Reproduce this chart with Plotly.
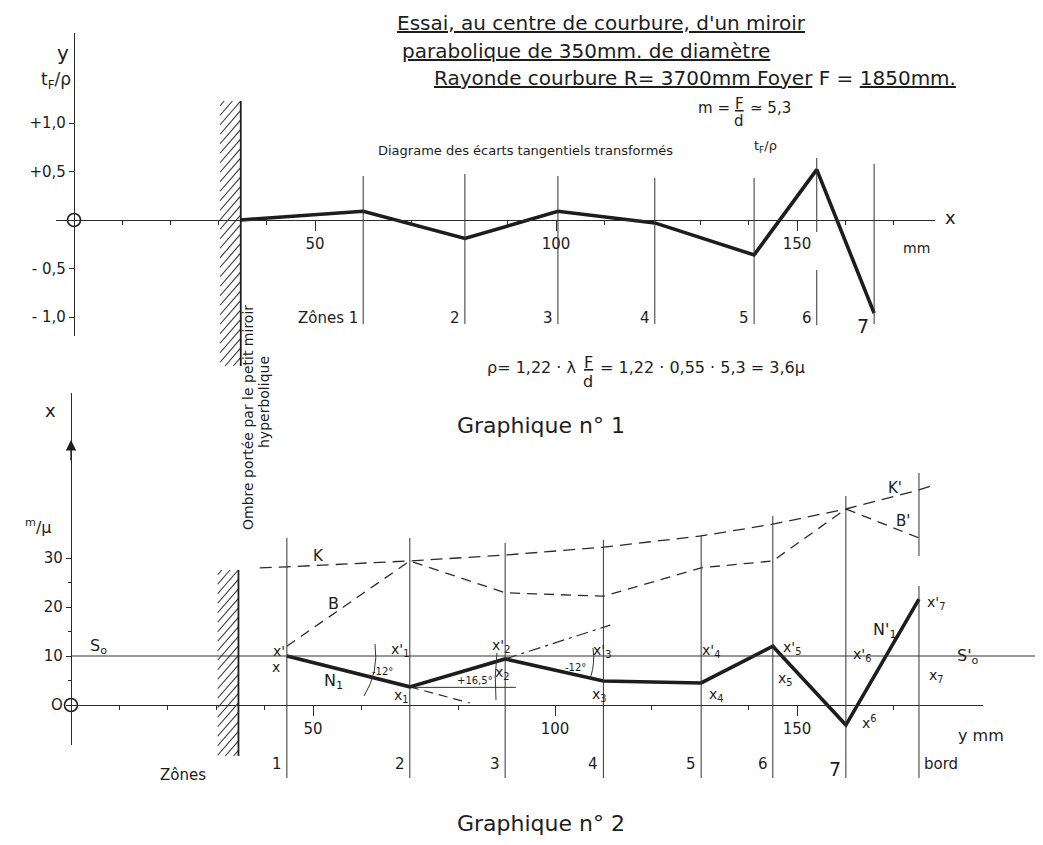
import plotly.graph_objects as go

W, H = 1043, 845

# ---------------- data ----------------
# Graphique no 1 : tangential deviations transformed, tF/rho, versus radius (mm)
g1_radius_mm = [34.6, 60.0, 81.1, 100.4, 120.5, 141.1, 154.1, 166.0]
g1_tf_rho = [0.0, 0.09, -0.19, 0.09, -0.03, -0.36, 0.52, -0.96]
g1_zone_mm = [60.0, 81.1, 100.4, 120.5, 141.1, 154.1, 166.0]
g1_zone_labels = ["Zônes 1", "2", "3", "4", "5", "6", "7"]
g1_yticks = [1.0, 0.5, -0.5, -1.0]
g1_yticklabels = ["+1,0", "+0,5", "- 0,5", "- 1,0"]

x_ticks = [50, 100, 150]
x_ticklabels = ["50", "100", "150"]

# Graphique no 2 : profile (m-micron) versus radius y (mm)
g2_zone_mm = [44.6, 70.0, 89.7, 110.0, 130.2, 145.0, 160.1, 175.2]
g2_zone_labels = ["1", "2", "3", "4", "5", "6", "7", "bord"]
g2_N = [10.0, 3.7, 9.4, 4.9, 4.5, 12.0, -4.1, 21.6]
g2_K_mm = [39.0, 44.6, 70.0, 89.7, 110.0, 130.2, 145.0, 160.1, 175.2, 177.7]
g2_K = [28.0, 28.2, 29.4, 30.6, 32.2, 34.5, 36.9, 40.0, 43.9, 44.7]
g2_B = [12.0, 29.4, 22.9, 22.2, 28.0, 29.4, 40.0, 34.1]
g2_S0 = 10.0
g2_yticks = [0, 10, 20, 30]
g2_yticklabels = ["O", "10", "20", "30"]
tan1_mm, tan1_val = [70.0, 82.4], [3.7, 0.4]
tan2_mm, tan2_val = [89.7, 111.4], [9.4, 16.3]
ref_mm, ref_val = [70.0, 91.9], [3.6, 3.6]

shadow_mm = (30.3, 34.6)

# ---------------- helpers (page layout) ----------------
INK = "#1d1d1d"
FONT = "DejaVu Sans"


def fx(px):
    return px / W


def fy(py):
    return 1 - py / H


# pixel calibration of the two drawings (where 0 sits, pixels per unit)
X1_0, X1_S, Y1_0, Y1_S = 66, 4.82, 212, 97.0
X2_0, X2_S, Y2_0, Y2_S = 63, 4.84, 697, 4.9

annotations = []
shapes = []


def txt(text, px, py, size=15, xanchor="center", yanchor="middle", angle=0, under=False):
    f = dict(family=FONT, size=size, color=INK)
    if under:
        f["lineposition"] = "under"
    annotations.append(dict(text=text, x=fx(px), y=fy(py), xref="paper", yref="paper",
                            showarrow=False, xanchor=xanchor, yanchor=yanchor,
                            textangle=angle, font=f))


def vline(xref, xval, top_px, bot_px, width=1.0, color="#333"):
    shapes.append(dict(type="line", xref=xref, yref="paper", x0=xval, x1=xval,
                       y0=fy(bot_px), y1=fy(top_px), line=dict(color=color, width=width)))


def hatch(xref, x0mm, x1mm, px0, scale, top, bot, step=9.5):
    xl = px0 + x0mm * scale
    xr = px0 + x1mm * scale
    w = xr - xl
    rise = 1.15 * w
    c = top + step * 0.5
    while c < bot + rise:
        ax, ay = xl, c
        bx, by = xr, c - rise
        if ay > bot:
            ax = xl + (ay - bot) / 1.15
            ay = bot
        if by < top:
            bx = xr - (top - by) / 1.15
            by = top
        if ax < bx:
            shapes.append(dict(type="line", xref=xref, yref="paper",
                               x0=(ax - px0) / scale, x1=(bx - px0) / scale,
                               y0=fy(ay), y1=fy(by), line=dict(color="#333", width=1.1)))
        c += step
    vline(xref, x1mm, top, bot, width=1.8, color=INK)


fig = go.Figure()

# ---------------- Graphique 1 ----------------
fig.add_trace(go.Scatter(x=g1_radius_mm, y=g1_tf_rho, mode="lines",
                         line=dict(color=INK, width=3.6), xaxis="x", yaxis="y",
                         hoverinfo="skip"))
fig.add_trace(go.Scatter(x=[0], y=[0], mode="markers", cliponaxis=False,
                         marker=dict(symbol="circle", size=13, color="white",
                                     line=dict(color=INK, width=1.6)),
                         xaxis="x", yaxis="y", hoverinfo="skip"))

g1_tops = [168, 166, 168, 170, 170, 150, 156]
for i, (zx, top) in enumerate(zip(g1_zone_mm, g1_tops)):
    if i == 5:
        vline("x", zx, top, 224)
        vline("x", zx, 262, 317)
    else:
        vline("x", zx, top, 316)
for i, (zx, lab) in enumerate(zip(g1_zone_mm, g1_zone_labels)):
    annotations.append(dict(text=lab, x=zx, xref="x", y=fy(310 if i < 6 else 318), yref="paper",
                            xanchor="right", yanchor="middle", xshift=-3, showarrow=False,
                            font=dict(family=FONT, size=15 if i < 6 else 19, color=INK)))
hatch("x", shadow_mm[0], shadow_mm[1], X1_0, X1_S, 93, 358)

# ---------------- Graphique 2 ----------------
fig.add_trace(go.Scatter(x=g2_K_mm, y=g2_K, mode="lines",
                         line=dict(color="#2a2a2a", width=1.3, dash="12px,7px"),
                         xaxis="x2", yaxis="y2", hoverinfo="skip"))
fig.add_trace(go.Scatter(x=g2_zone_mm, y=g2_B, mode="lines",
                         line=dict(color="#2a2a2a", width=1.3, dash="10px,7px"),
                         xaxis="x2", yaxis="y2", hoverinfo="skip"))
fig.add_trace(go.Scatter(x=tan1_mm, y=tan1_val, mode="lines",
                         line=dict(color="#2a2a2a", width=1.2, dash="9px,6px"),
                         xaxis="x2", yaxis="y2", hoverinfo="skip"))
fig.add_trace(go.Scatter(x=tan2_mm, y=tan2_val, mode="lines",
                         line=dict(color="#2a2a2a", width=1.2, dash="12px,5px,3px,5px"),
                         xaxis="x2", yaxis="y2", hoverinfo="skip"))
fig.add_trace(go.Scatter(x=ref_mm, y=ref_val, mode="lines",
                         line=dict(color="#333", width=1.0),
                         xaxis="x2", yaxis="y2", hoverinfo="skip"))
fig.add_trace(go.Scatter(x=g2_zone_mm, y=g2_N, mode="lines",
                         line=dict(color=INK, width=3.6), xaxis="x2", yaxis="y2",
                         hoverinfo="skip"))
fig.add_trace(go.Scatter(x=[0], y=[0], mode="markers", cliponaxis=False,
                         marker=dict(symbol="circle", size=13, color="white",
                                     line=dict(color=INK, width=1.6)),
                         xaxis="x2", yaxis="y2", hoverinfo="skip"))

# S0 reference line
shapes.append(dict(type="line", xref="paper", yref="y2", x0=fx(63), x1=fx(1033),
                   y0=g2_S0, y1=g2_S0, line=dict(color="#333", width=1.1)))

g2_tops = [530, 530, 535, 532, 527, 508, 488, 465]
for i, (zx, top) in enumerate(zip(g2_zone_mm, g2_tops)):
    if i == 7:
        vline("x2", zx, top, 548)
        vline("x2", zx, 578, 770)
    else:
        vline("x2", zx, top, 770)
for i, (zx, lab) in enumerate(zip(g2_zone_mm, g2_zone_labels)):
    if lab == "bord":
        annotations.append(dict(text=lab, x=zx, xref="x2", y=fy(767), yref="paper",
                                xanchor="left", xshift=3, showarrow=False,
                                font=dict(family=FONT, size=15, color=INK)))
    else:
        annotations.append(dict(text=lab, x=zx, xref="x2", y=fy(774 if lab == "7" else 767),
                                yref="paper", xanchor="right", xshift=-3, showarrow=False,
                                font=dict(family=FONT, size=19 if lab == "7" else 15, color=INK)))
txt("Zônes", 175, 767, 15)
hatch("x2", shadow_mm[0], shadow_mm[1], X2_0, X2_S, 562, 748)

# y-axis arrow of graph 2
annotations.append(dict(x=0, y=(Y2_0 - 432) / Y2_S, xref="x2", yref="y2", ax=0, ay=22,
                        text="", showarrow=True, arrowhead=2, arrowsize=1.6, arrowwidth=1.3,
                        arrowcolor=INK, standoff=0))

# angle marks (small arcs)
shapes.append(dict(type="path", xref="paper", yref="paper",
                   path="M %f,%f Q %f,%f %f,%f" % (fx(367), fy(636), fx(371), fy(664), fx(356), fy(688)),
                   line=dict(color="#333", width=1.0)))
shapes.append(dict(type="path", xref="paper", yref="paper",
                   path="M %f,%f Q %f,%f %f,%f" % (fx(489), fy(645), fx(486), fy(668), fx(488), fy(692)),
                   line=dict(color="#333", width=1.0)))
shapes.append(dict(type="path", xref="paper", yref="paper",
                   path="M %f,%f Q %f,%f %f,%f" % (fx(585), fy(640), fx(587), fy(655), fx(583), fy(668)),
                   line=dict(color="#333", width=1.0)))

# ---------------- right-hand ruler ----------------
shapes.append(dict(type="line", xref="paper", yref="paper", x0=fx(1039), y0=fy(126),
                   x1=fx(1031), y1=fy(845), line=dict(color=INK, width=1.8)))
for t in [170, 221, 270, 318, 367, 416, 462, 511, 560, 608, 657, 706, 754, 805]:
    lx = 1039 - 8 * (t - 126) / (845 - 126)
    shapes.append(dict(type="line", xref="paper", yref="paper", x0=fx(lx), y0=fy(t),
                       x1=fx(1043), y1=fy(t), line=dict(color=INK, width=1.4)))

# ---------------- texts ----------------
# title block
txt("Essai, au centre de courbure, d'un miroir", 800, 15, 20, xanchor="right", under=True)
txt("parabolique de 350mm. de diamètre", 764, 43, 20, xanchor="right", under=True)
txt("<u>Rayonde courbure R= 3700mm Foyer</u> F = <u>1850mm.</u>", 950, 70, 20, xanchor="right")
txt("m =", 706, 100, 15)
txt("<u>F</u>", 731, 96, 15)
txt("d", 731, 113, 15)
txt("≃ 5,3", 740, 100, 15, xanchor="left")

txt("y", 55, 45, 20)
txt("t<sub>F</sub>/ρ", 48, 73, 17)
txt("x", 942, 210, 18)
txt("mm", 908, 240, 14)
txt("Diagrame des écarts tangentiels transformés", 368, 142, 13, xanchor="left")
txt("t<sub>F</sub>/ρ", 757, 138, 13)

txt("ρ= 1,22 · λ", 477, 359, 16, xanchor="left")
txt("<u>F</u>", 580, 355, 16)
txt("d", 580, 373, 16)
txt("= 1,22 · 0,55 · 5,3 = 3,6μ", 590, 359, 16, xanchor="left")
txt("Graphique n° 1", 447, 417, 22, xanchor="left")

txt("Ombre portée par le petit miroir", 240, 410, 14, angle=-90)
txt("hyperbolique", 256, 394, 14, angle=-90)

txt("x", 42, 402, 18)
txt("<sup>m</sup>/μ", 30, 518, 16)
txt("S<sub>o</sub>", 90, 638, 16)
txt("S'<sub>o</sub>", 960, 648, 16)
txt("K", 310, 548, 15)
txt("B", 325, 595, 16)
txt("K'", 887, 480, 15)
txt("B'", 895, 513, 15)
txt("x'", 271, 643, 14)
txt("x", 268, 659, 14)
txt("N<sub>1</sub>", 325, 673, 16)
txt("x'<sub>1</sub>", 392, 642, 14)
txt("x<sub>1</sub>", 393, 688, 14)
txt("x'<sub>2</sub>", 493, 638, 14)
txt("x<sub>2</sub>", 494, 665, 14)
txt("x'<sub>3</sub>", 594, 643, 14)
txt("x<sub>3</sub>", 591, 687, 14)
txt("x'<sub>4</sub>", 703, 643, 14)
txt("x<sub>4</sub>", 708, 687, 14)
txt("x'<sub>5</sub>", 784, 640, 14)
txt("x<sub>5</sub>", 777, 671, 14)
txt("x'<sub>6</sub>", 854, 647, 14)
txt("x<sup>6</sup>", 861, 714, 14)
txt("x'<sub>7</sub>", 928, 595, 14)
txt("x<sub>7</sub>", 928, 668, 14)
txt("N'<sub>1</sub>", 877, 622, 16)
txt("-12°", 374, 663, 10)
txt("+16,5°", 467, 672, 10)
txt("-12°", 567, 659, 10)
txt("y mm", 973, 727, 16)
txt("Graphique n° 2", 447, 815, 22, xanchor="left")

axis_common = dict(showgrid=False, zeroline=False, showline=True, linecolor="#2a2a2a",
                   linewidth=1.3, ticks="outside", tickcolor="#2a2a2a", tickwidth=1.2,
                   tickfont=dict(family=FONT, size=15, color=INK), fixedrange=True)

fig.update_layout(
    width=W, height=H, margin=dict(l=0, r=0, t=0, b=0),
    paper_bgcolor="white", plot_bgcolor="rgba(0,0,0,0)", showlegend=False,
    xaxis=dict(axis_common, domain=[fx(48), fx(927)],
               range=[(48 - X1_0) / X1_S, (927 - X1_0) / X1_S],
               anchor="free", position=fy(Y1_0),
               tickmode="array", tickvals=x_ticks, ticktext=x_ticklabels, ticklen=10,
               minor=dict(tickmode="array", tickvals=[10, 20, 30, 40, 70, 90, 110, 130, 140, 160, 170],
                          ticks="outside", ticklen=4, tickcolor="#2a2a2a", tickwidth=1)),
    yaxis=dict(axis_common, domain=[fy(328), fy(25)],
               range=[(Y1_0 - 328) / Y1_S, (Y1_0 - 25) / Y1_S],
               anchor="free", position=fx(X1_0),
               tickmode="array", tickvals=g1_yticks, ticktext=g1_yticklabels, ticklen=5),
    xaxis2=dict(axis_common, domain=[fx(58), fx(975)],
                range=[(58 - X2_0) / X2_S, (975 - X2_0) / X2_S],
                anchor="free", position=fy(Y2_0),
                tickmode="array", tickvals=x_ticks, ticktext=x_ticklabels, ticklen=10,
                minor=dict(tickmode="array", tickvals=[10, 20, 30, 40, 60, 80, 120, 140, 170],
                           ticks="outside", ticklen=4, tickcolor="#2a2a2a", tickwidth=1)),
    yaxis2=dict(axis_common, domain=[fy(737), fy(385)],
                range=[(Y2_0 - 737) / Y2_S, (Y2_0 - 385) / Y2_S],
                anchor="free", position=fx(X2_0),
                tickmode="array", tickvals=g2_yticks, ticktext=g2_yticklabels, ticklen=5,
                minor=dict(tickmode="array", tickvals=[5, 15, 25], ticks="outside",
                           ticklen=3, tickcolor="#2a2a2a", tickwidth=1)),
    annotations=annotations, shapes=shapes,
)

fig.write_html("out.html")
